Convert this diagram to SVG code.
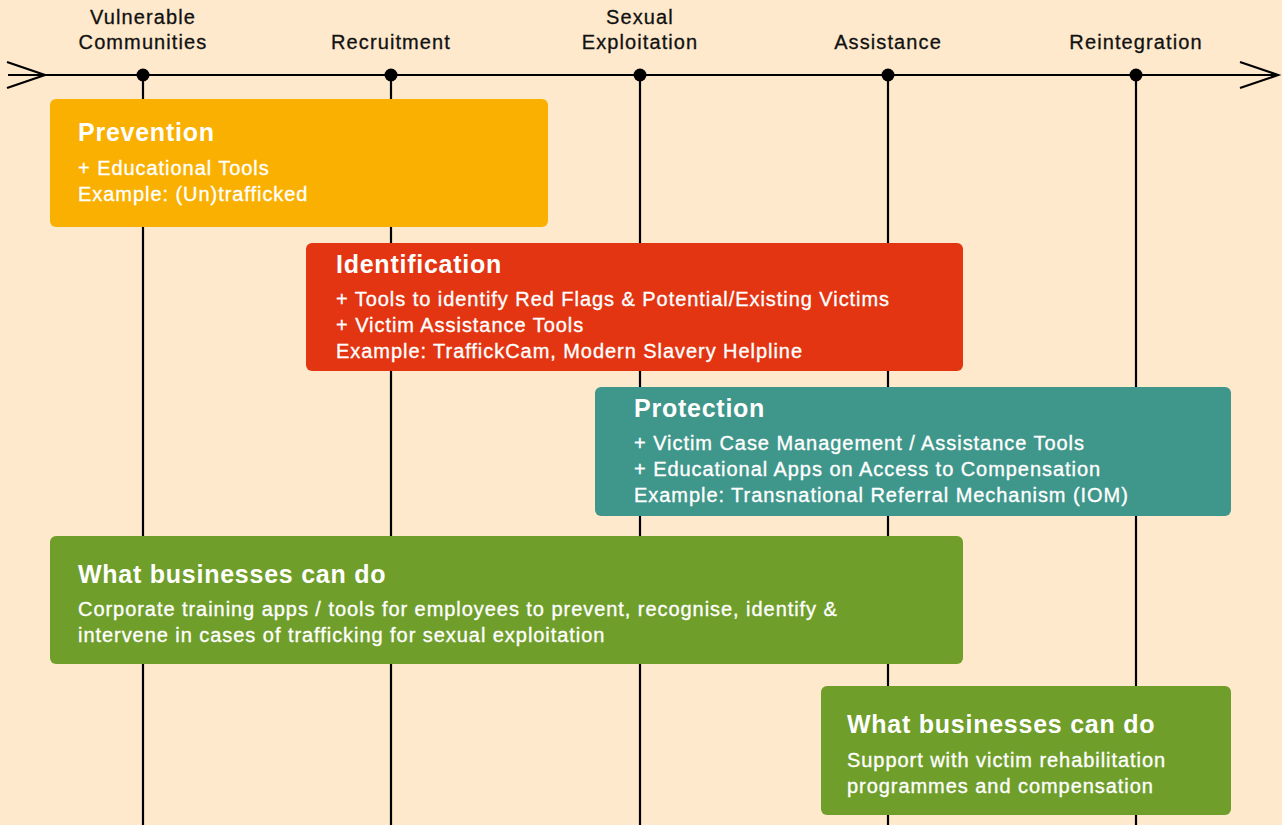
<svg xmlns="http://www.w3.org/2000/svg" width="1282" height="825" viewBox="0 0 1282 825">
<style>
.axis{stroke:#000;stroke-width:2.2;fill:none}
.lab{font-family:"Liberation Sans",Arial,sans-serif;font-size:20px;letter-spacing:1.1px;fill:#111;stroke:#111;stroke-width:0.3;text-anchor:middle}
.t{font-family:"Liberation Sans",Arial,sans-serif;font-size:25px;letter-spacing:0.75px;font-weight:bold;fill:#fff}
.b{font-family:"Liberation Sans",Arial,sans-serif;font-size:20px;letter-spacing:0.95px;fill:#fff;stroke:#fff;stroke-width:0.35}
</style>
<rect width="1282" height="825" fill="#FEE9CC"/>
<g id="connectors">
<line class="axis" x1="8" y1="75" x2="1278" y2="75"/>
<polyline class="axis" points="7,62 45,75 7,88"/>
<polyline class="axis" points="1240,62 1278,75 1240,88"/>
<line class="axis" x1="143" y1="75" x2="143" y2="825"/>
<line class="axis" x1="391" y1="75" x2="391" y2="825"/>
<line class="axis" x1="640" y1="75" x2="640" y2="825"/>
<line class="axis" x1="888" y1="75" x2="888" y2="825"/>
<line class="axis" x1="1136" y1="75" x2="1136" y2="825"/>
<circle cx="143" cy="75" r="6.5"/>
<circle cx="391" cy="75" r="6.5"/>
<circle cx="640" cy="75" r="6.5"/>
<circle cx="888" cy="75" r="6.5"/>
<circle cx="1136" cy="75" r="6.5"/>
</g>
<g id="stages">
<text class="lab" x="143" y="24">Vulnerable</text>
<text class="lab" x="143" y="49">Communities</text>
<text class="lab" x="391" y="49">Recruitment</text>
<text class="lab" x="640" y="24">Sexual</text>
<text class="lab" x="640" y="49">Exploitation</text>
<text class="lab" x="888" y="49">Assistance</text>
<text class="lab" x="1136" y="49">Reintegration</text>
</g>
<g id="prevention">
<rect x="50" y="99" width="498" height="128" rx="6" fill="#F9B000"/>
<text class="t" x="78" y="141">Prevention</text>
<text class="b" x="78" y="175">+ Educational Tools</text>
<text class="b" x="78" y="201">Example: (Un)trafficked</text>
</g>
<g id="identification">
<rect x="306" y="243" width="657" height="128" rx="6" fill="#E33512"/>
<text class="t" x="336" y="273">Identification</text>
<text class="b" x="336" y="306">+ Tools to identify Red Flags &amp; Potential/Existing Victims</text>
<text class="b" x="336" y="332">+ Victim Assistance Tools</text>
<text class="b" x="336" y="358">Example: TraffickCam, Modern Slavery Helpline</text>
</g>
<g id="protection">
<rect x="595" y="387" width="636" height="129" rx="6" fill="#3F968A"/>
<text class="t" x="634" y="417">Protection</text>
<text class="b" x="634" y="450">+ Victim Case Management / Assistance Tools</text>
<text class="b" x="634" y="476">+ Educational Apps on Access to Compensation</text>
<text class="b" x="634" y="502">Example: Transnational Referral Mechanism (IOM)</text>
</g>
<g id="business1">
<rect x="50" y="536" width="913" height="128" rx="6" fill="#6F9E2B"/>
<text class="t" x="78" y="583">What businesses can do</text>
<text class="b" x="78" y="616">Corporate training apps / tools for employees to prevent, recognise, identify &amp;</text>
<text class="b" x="78" y="642">intervene in cases of trafficking for sexual exploitation</text>
</g>
<g id="business2">
<rect x="821" y="686" width="410" height="129" rx="6" fill="#6F9E2B"/>
<text class="t" x="847" y="733">What businesses can do</text>
<text class="b" x="847" y="767">Support with victim rehabilitation</text>
<text class="b" x="847" y="793">programmes and compensation</text>
</g>
</svg>
